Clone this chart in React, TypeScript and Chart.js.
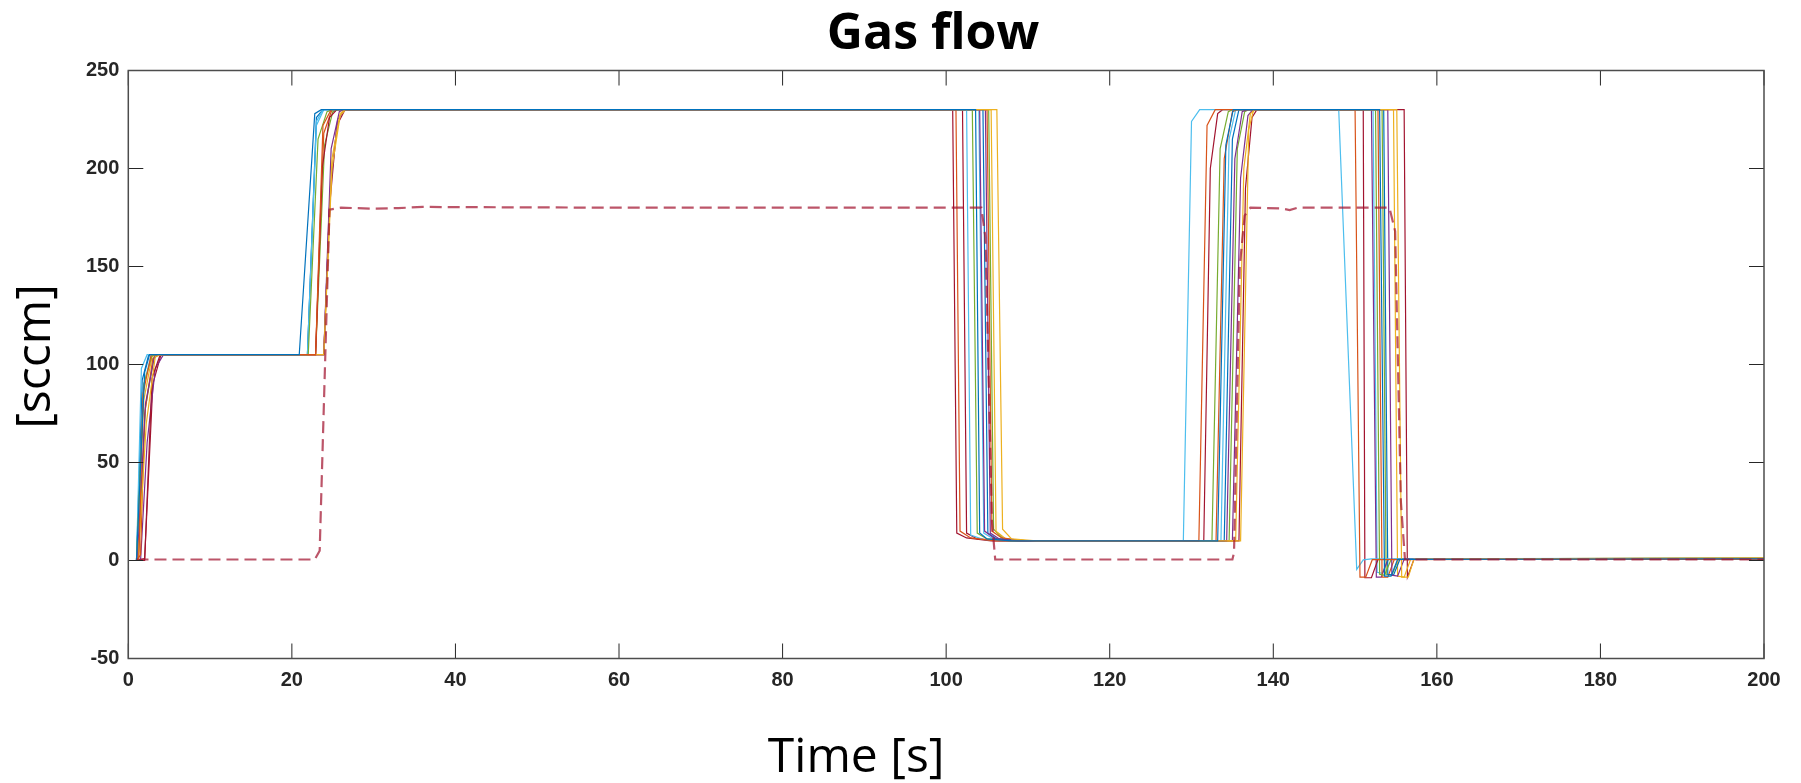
import React, { useEffect, useRef } from "react";
import { Chart, registerables } from "chart.js";

Chart.register(...registerables);

const TITLE = "Gas flow";
const X_LABEL = "Time [s]";
const Y_LABEL = "[sccm]";

const X_MIN = 0;
const X_MAX = 200;
const X_STEP = 20;
const Y_MIN = -50;
const Y_MAX = 250;
const Y_STEP = 50;

const MATLAB_COLORS = ["#0072BD", "#D95319", "#EDB120", "#7E2F8E", "#77AC30", "#4DBEEE", "#A2142F"];

// measured gas-flow traces: [time (s), flow (sccm)]
const S1 = [[1,0],[2,96],[2.6,105],[20.9,105],[22.8,228],[23.6,230],[103.6,230],[104.1,14],[105,11],[108,10],[133.2,10],[134.2,212],[135.1,230],[153,230],[153.6,-8],[154.4,-8],[155.2,0.6],[200,0.9]];
const S2 = [[1,0],[1.3,2],[1.8,85],[2.8,105],[22.9,105],[23.8,222],[24.8,230],[101.2,230],[101.7,15],[103,11.5],[106,10],[130.9,10],[131.9,222],[132.9,230],[150,230],[150.6,-8.5],[151.3,-8.5],[152.1,0.4],[200,0.8]];
const S3 = [[1.2,0],[2.2,70],[3.3,104],[4,105],[23.9,105],[24.9,205],[25.9,228],[26.5,230],[106.2,230],[106.9,16],[108,11],[111,10],[136,10],[137,220],[137.6,230],[155.1,230],[155.7,-8.5],[156.5,-8.5],[157.2,0.7],[200,1.4]];
const S4 = [[1.1,0],[2.1,80],[3.2,104],[3.8,105],[23.9,105],[24.8,210],[25.8,229],[26.3,230],[104.1,230],[104.7,15],[106,11],[109,10],[134.3,10],[135.3,205],[136.2,229],[136.8,230],[154,230],[154.5,-7.5],[155.2,-8],[156,0.6],[200,1.0]];
const S5 = [[1,0],[1.9,90],[2.9,104.5],[3.5,105],[22,105],[23.2,215],[24.3,229],[25,230],[103.2,230],[103.8,14],[105,11],[108,10],[132.5,10],[133.5,210],[134.5,229],[135,230],[152.5,230],[153,-7],[153.6,-7.5],[154.4,0.5],[200,1.0]];
const S6 = [[1,0],[1.6,98],[2.3,105],[21.9,105],[23,224],[23.8,230],[102.5,230],[103,13],[104.5,10.8],[107,10],[129,10],[130,224],[131,230],[148,230],[150.2,-4.5],[151,0.3],[152,0.8],[200,1.2]];
const S7 = [[1,0],[2,0],[2.9,93],[3.9,105],[22.9,105],[23.7,200],[24.6,226],[25.5,230],[100.8,230],[101.3,14],[102.5,11.5],[105.5,10],[131.5,10],[132.3,200],[133.2,228],[133.8,230],[151,230],[151.2,-8.8],[152,-8.8],[152.8,0.5],[200,0.9]];
const S8 = [[1,0],[1.7,92],[2.5,105],[21.9,105],[23,226],[23.8,230],[104.5,230],[105.1,14],[106.2,11],[109,10],[134,10],[135,215],[135.8,230],[153.5,230],[154,-7],[154.7,-7.5],[155.5,0.8],[200,1.1]];
const S9 = [[1.1,0],[1.5,3],[2,75],[3,103],[3.6,105],[22.9,105],[23.9,218],[24.9,230],[105,230],[105.6,15],[106.8,11.5],[109.5,10],[133,10],[134,205],[135,229],[135.6,230],[152.8,230],[153.3,-8.5],[154,-8.5],[154.8,0.6],[200,0.9]];
const S10 = [[1,0],[1.9,82],[2.9,104],[3.4,105],[23.9,105],[24.9,200],[25.9,227],[26.6,230],[105.5,230],[106.1,15],[107.3,11],[110,10],[135.4,10],[136.4,200],[137.2,228],[137.8,230],[154.7,230],[155.2,-8],[156,-8.5],[156.8,0.7],[200,1.3]];
const S11 = [[1.5,0],[2.3,60],[3.3,98],[4.3,105],[23.9,105],[24.7,190],[25.6,225],[26.5,230],[104.8,230],[105.4,14],[106.5,11],[109,10],[135,10],[136,195],[136.9,227],[137.5,230],[152,230],[152.6,-8.5],[153.2,-8.5],[154,0.5],[200,1.0]];
const S12 = [[1.2,0],[2.1,78],[3.1,103],[3.7,105],[22.9,105],[24,212],[25,229],[25.6,230],[105.2,230],[105.8,16],[107,11],[110,10],[134.6,10],[135.6,210],[136.5,229],[137,230],[153.3,230],[153.8,-7],[154.5,-7.5],[155.3,0.6],[200,1.0]];
const S13 = [[1,0],[1.8,88],[2.8,105],[21.9,105],[23,222],[23.9,230],[104,230],[104.6,14],[105.8,11],[108.5,10],[133.6,10],[134.6,215],[135.4,230],[152.2,230],[152.7,-6],[153.3,-6.5],[154.1,0.6],[200,1.2]];
const S14 = [[1,0],[2,1],[3,90],[4,105],[23.9,105],[24.6,180],[25.5,222],[26.5,230],[102,230],[102.5,14],[103.8,11],[107,10],[135.8,10],[136.6,190],[137.4,226],[138,230],[156,230],[156.4,-8.5],[157.2,0.6],[200,0.9]];

const MEASURED = [S1, S2, S3, S4, S5, S6, S7, S8, S9, S10, S11, S12, S13, S14];

// setpoint (dashed)
const SETPOINT = [[1,0.5],[22.8,0.5],[23.4,5],[24.6,179],[26,180],[30,179.5],[33,179.8],[36,180.4],[40,180.3],[60,180],[104.3,180],[104.8,165],[105.6,20],[106,0.5],[135,0.5],[135.2,4],[135.9,150],[136.5,176],[137.2,180],[141,179.6],[142,178.8],[143,180],[154.2,180],[154.9,168],[155.6,30],[156.1,0.5],[200,0.5]];

const toXY = (arr: number[][]) => arr.map(([x, y]) => ({ x, y }));

const TICK_FONT = { family: "'Liberation Sans', Arial, sans-serif", size: 20, weight: "bold" as const };
const TICK_COLOR = "#262626";

const framePlugin = {
  id: "matlabFrame",
  afterDraw(chart: any) {
    const { ctx, chartArea, scales } = chart;
    const { left, right, top, bottom } = chartArea;
    const xs = scales.x;
    const ys = scales.y;
    const tl = 15;
    ctx.save();
    ctx.strokeStyle = "#262626";
    ctx.lineWidth = 1;
    ctx.beginPath();
    xs.ticks.forEach((t: any) => {
      const px = xs.getPixelForValue(t.value);
      ctx.moveTo(px, bottom);
      ctx.lineTo(px, bottom - tl);
      ctx.moveTo(px, top);
      ctx.lineTo(px, top + tl);
    });
    ys.ticks.forEach((t: any) => {
      const py = ys.getPixelForValue(t.value);
      ctx.moveTo(left, py);
      ctx.lineTo(left + tl, py);
      ctx.moveTo(right, py);
      ctx.lineTo(right - tl, py);
    });
    ctx.stroke();
    ctx.strokeStyle = "#4d4d4d";
    ctx.lineWidth = 1.5;
    ctx.strokeRect(left, top, right - left, bottom - top);

    // texts
    const w = right - left;
    ctx.fillStyle = "#000000";
    ctx.textAlign = "center";
    ctx.textBaseline = "alphabetic";
    ctx.font = "bold 50px 'Open Sans', sans-serif";
    ctx.fillText(TITLE, left + w * 0.492, top - 22);
    ctx.font = "48px 'Open Sans', sans-serif";
    ctx.fillText(X_LABEL, left + w * 0.445, bottom + 113);
    ctx.save();
    ctx.translate(left - 78, (top + bottom) / 2 - 8);
    ctx.rotate(-Math.PI / 2);
    ctx.fillText(Y_LABEL, 0, 0);
    ctx.restore();
    ctx.restore();
  },
};

export default function App() {
  const canvasRef = useRef<HTMLCanvasElement | null>(null);

  useEffect(() => {
    if (!canvasRef.current) return;
    const datasets: any[] = [
      {
        label: "Setpoint",
        data: toXY(SETPOINT),
        borderColor: "rgba(162,20,47,0.72)",
        borderWidth: 2.2,
        borderDash: [12, 6],
        pointRadius: 0,
        tension: 0,
        fill: false,
      },
      ...MEASURED.map((s, i) => ({
        label: "Run " + (i + 1),
        data: toXY(s),
        borderColor: MATLAB_COLORS[i % MATLAB_COLORS.length],
        borderWidth: 1.2,
        pointRadius: 0,
        tension: 0,
        fill: false,
      })),
    ];

    const chart = new Chart(canvasRef.current, {
      type: "line",
      data: { datasets },
      options: {
        animation: false,
        responsive: false,
        devicePixelRatio: 1,
        parsing: true,
        layout: { padding: { left: 0, top: 70.5, right: 37, bottom: 0 } },
        plugins: {
          legend: { display: false },
          tooltip: { enabled: false },
          title: { display: false },
        },
        scales: {
          x: {
            type: "linear",
            min: X_MIN,
            max: X_MAX,
            grid: { display: false, drawTicks: false },
            border: { display: false },
            ticks: { stepSize: X_STEP, font: TICK_FONT, color: TICK_COLOR, padding: 10, maxRotation: 0 },
            afterFit: (scale: any) => {
              scale.height = 124.5;
            },
          },
          y: {
            type: "linear",
            min: Y_MIN,
            max: Y_MAX,
            grid: { display: false, drawTicks: false },
            border: { display: false },
            ticks: { stepSize: Y_STEP, font: TICK_FONT, color: TICK_COLOR, padding: 9 },
            afterFit: (scale: any) => {
              scale.width = 128.3;
            },
          },
        },
      } as any,
      plugins: [framePlugin],
    });
    return () => chart.destroy();
  }, []);

  return (
    <div style={{ position: "fixed", left: 0, top: 0, width: 1801, height: 783, background: "#ffffff" }}>
      <canvas ref={canvasRef} width={1801} height={783} style={{ width: 1801, height: 783, display: "block" }} />
    </div>
  );
}
